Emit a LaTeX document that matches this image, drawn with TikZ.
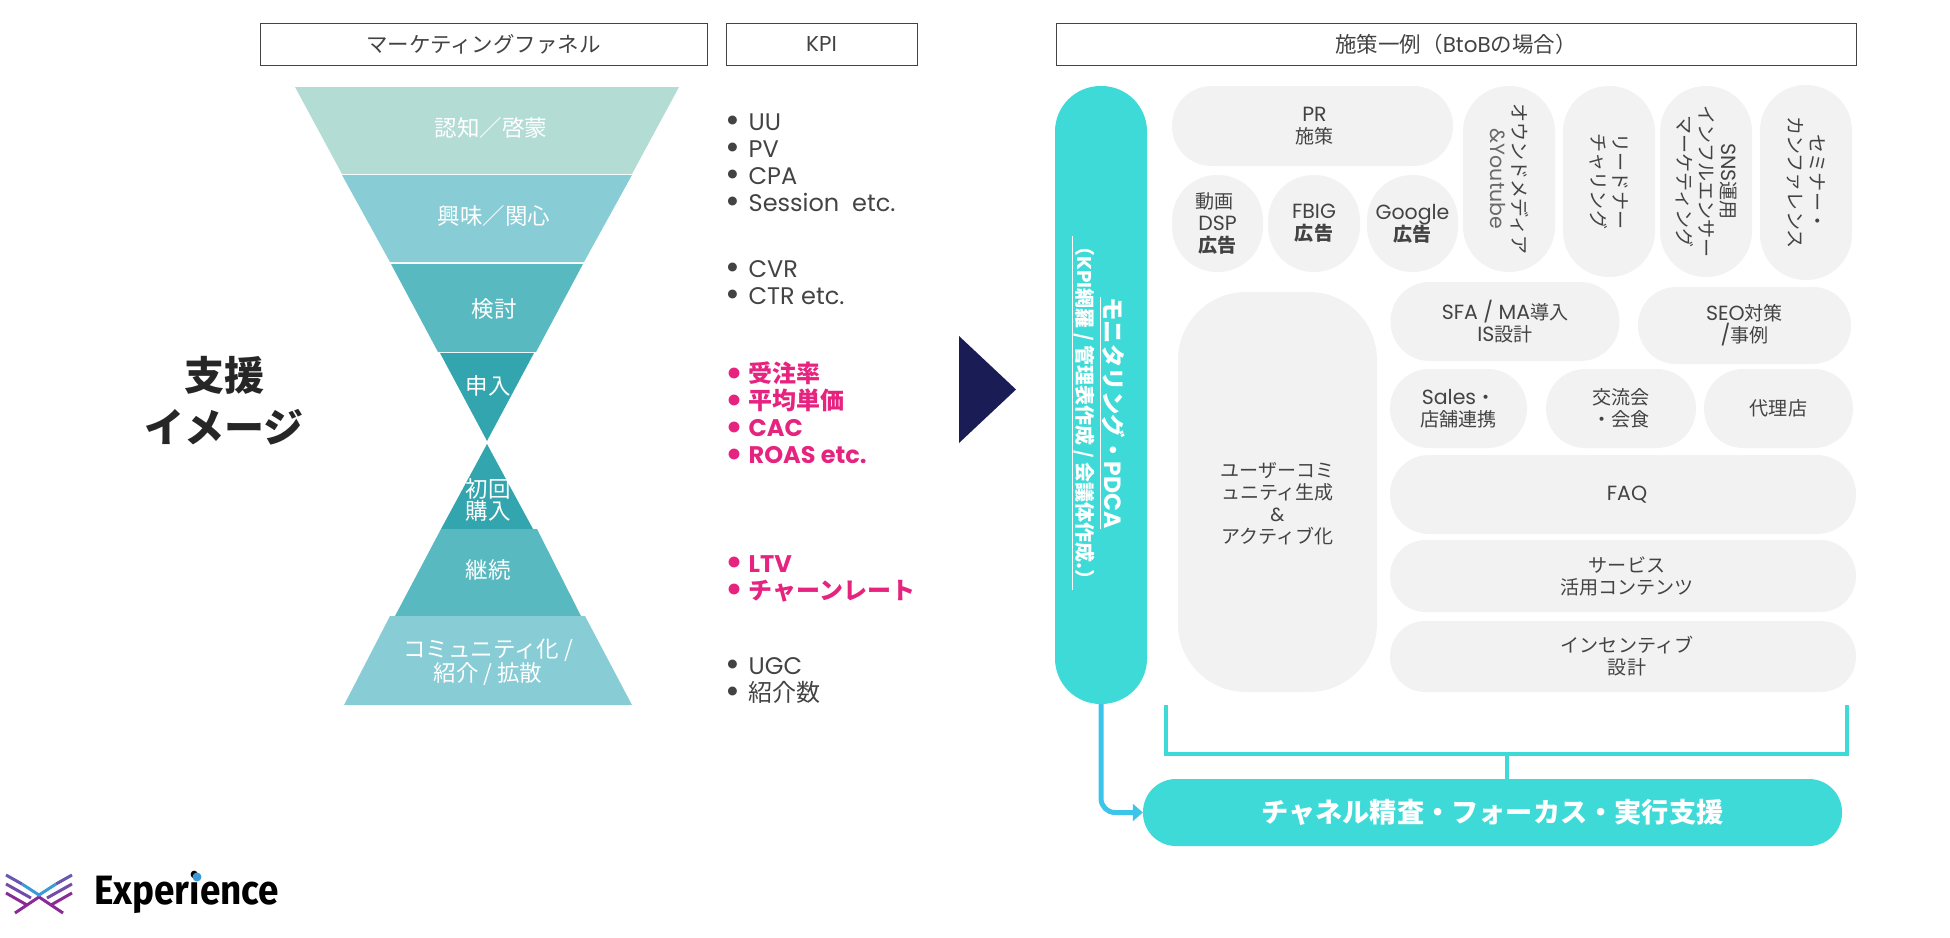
\documentclass[tikz,border=0pt]{standalone}
\usepackage{fontspec}
\usepackage{xcolor}
\usepackage{tikz}
\usetikzlibrary{arrows.meta}
\setmainfont{Poppins}
\newfontfamily\cjk{Noto Sans CJK JP}
\newfontfamily\cjkpill[Scale=0.93]{Noto Sans CJK JP}
\newfontfamily\logofont{Fira Sans}
\newcommand{\ja}[1]{{\cjk #1}}
\newcommand{\kpiline}[1]{\makebox[23pt][l]{\raisebox{-2.5pt}{\scalebox{1.5}{\textbullet}}}#1}
\definecolor{inktext}{HTML}{434343}
\definecolor{pillgray}{HTML}{F2F2F2}
\definecolor{aqua}{HTML}{3EDAD8}
\definecolor{skyline}{HTML}{3DC4EA}
\definecolor{navyarrow}{HTML}{1A1C56}
\definecolor{kpipink}{HTML}{E6237F}
\definecolor{tealA}{HTML}{B3DCD5}
\definecolor{tealB}{HTML}{88CCD5}
\definecolor{tealC}{HTML}{58BAC0}
\definecolor{tealD}{HTML}{32A5AE}
\definecolor{logopurple}{HTML}{8A2A96}
\definecolor{logoblue}{HTML}{3A9BD8}

\begin{document}
\begin{tikzpicture}[
  x=1pt, y=-1pt,
  header/.style={draw=inktext, line width=1pt, inner sep=0pt, text=inktext, font=\fontsize{21.5}{24}\selectfont},
  stage/.style={text=white, align=center, inner sep=0pt, font=\fontsize{22.5}{22}\selectfont},
  kpi/.style={anchor=west, align=left, inner sep=0pt, text=inktext, font=\fontsize{24}{27}\selectfont},
  kpihot/.style={kpi, text=kpipink, font=\fontsize{24}{27}\selectfont\bfseries},
  pill/.style 2 args={fill=pillgray, inner sep=0pt, align=center, text=inktext,
              minimum width=#1, minimum height=#2, rounded corners={min(#1,#2)/2*0.99pt},
              font=\let\cjk\cjkpill\fontsize{20.5}{22}\selectfont},
  upright/.style 2 args={pill={#2}{#1}, rotate=-90},
  bar/.style={-{Triangle[length=10pt,width=17pt]}, line width=5pt, draw=skyline, rounded corners=14pt},
  brace/.style={line width=4pt, draw=aqua},
  logoline/.style={line width=3pt}
]
  \useasboundingbox (0,0) rectangle (1950,937);

  % Headers
  \node[header, minimum width=447pt, minimum height=42pt] (hfunnel) at (483.5,44) {\ja{マーケティングファネル}};
  \node[header, minimum width=191pt, minimum height=42pt] (hkpi) at (821.5,44) {KPI};
  \node[header, minimum width=800pt, minimum height=42pt] (hplan) at (1456,44) {\ja{施策一例（}BtoB\ja{の場合）}};

  % Funnel
  \fill[tealA] (295,87) -- (679,87) -- (632,174) -- (342,174) -- cycle;
  \fill[tealB] (342,175) -- (632,175) -- (584,262) -- (390,262) -- cycle;
  \fill[tealC] (391,264) -- (583,264) -- (536,352) -- (438,352) -- cycle;
  \fill[tealD] (440,353) -- (534,353) -- (487,441) -- cycle;
  \fill[tealD] (487,444) -- (533,529) -- (441,529) -- cycle;
  \fill[tealC] (441,529) -- (537,529) -- (581,616) -- (395,616) -- cycle;
  \fill[tealB] (390,616) -- (585,616) -- (632,705) -- (344,705) -- cycle;

  \node[stage] (aware)   at (491,128) {\ja{認知／啓蒙}};
  \node[stage] (interest) at (494,216) {\ja{興味／関心}};
  \node[stage] (review)  at (494,309) {\ja{検討}};
  \node[stage] (apply)   at (488,386) {\ja{申入}};
  \node[stage] (first)   at (488,500) {\ja{初回}\\\ja{購入}};
  \node[stage] (repeat)  at (488,570) {\ja{継続}};
  \node[stage] (commu)   at (488,662) {\ja{コミュニティ化 /}\\\ja{紹介 / 拡散}};

  \node[align=center, inner sep=0pt, text=black!85, font=\fontsize{40}{52}\selectfont\bfseries] (title) at (224,401) {\ja{支援}\\\ja{イメージ}};

  % KPI lists
  \node[kpi] (kpiA) at (725.5,163.5) {\kpiline{UU}\\\kpiline{PV}\\\kpiline{CPA}\\\kpiline{Session\ \ etc.}};
  \node[kpi] (kpiB) at (725.5,283.5) {\kpiline{CVR}\\\kpiline{CTR etc.}};
  \node[kpihot] (kpiC) at (725.5,414) {\kpiline{\ja{受注率}}\\\kpiline{\ja{平均単価}}\\\kpiline{CAC}\\\kpiline{ROAS etc.}};
  \node[kpihot] (kpiD) at (725.5,578.5) {\kpiline{LTV}\\\kpiline{\ja{チャーンレート}}};
  \node[kpi] (kpiE) at (725.5,680.5) {\kpiline{UGC}\\\kpiline{\ja{紹介数}}};

  \fill[navyarrow] (959,336) -- (1016,389.5) -- (959,443) -- cycle;

  % Plan side
  \node[fill=aqua, inner sep=0pt, minimum width=92pt, minimum height=618pt, rounded corners=45.5pt] (monitor) at (1101,395) {};
  \node[rotate=-90, align=center, inner sep=0pt, text=white, font=\fontsize{23.5}{26}\selectfont\bfseries] (montext) at (1098,413)
    {\underline{\ja{モニタリング・}PDCA}\\[1pt]\underline{\fontsize{20}{22}\selectfont\ja{（}KPI\ja{網羅 / 管理表作成 / 会議体作成.）}}};

  \node[pill={281}{80}] (pr) at (1312.5,126) {\hspace*{4pt}PR\\\hspace*{4pt}\ja{施策}};
  \node[pill={91}{97}] (dsp) at (1217.5,223.5) {\ja{動画}\hspace*{6pt}\\DSP\\\textbf{\ja{広告}}};
  \node[pill={92}{97}] (fbig) at (1314,223.5) {FBIG\\\textbf{\ja{広告}}};
  \node[pill={91}{97}] (google) at (1412.5,223.5) {Google\\\textbf{\ja{広告}}};

  \node[upright={92}{186}] (owned) at (1509,179) {\ja{オウンドメディア}\\\textcolor{inktext!80}{\&Youtube}};
  \node[upright={92}{191}] (lead) at (1609,181.5) {\ja{リードナー}\\\ja{チャリング}};
  \node[upright={92}{191}] (sns) at (1706,181.5) {SNS\ja{運用}\\\ja{インフルエンサー}\\\ja{マーケティング}};
  \node[upright={92}{195}] (seminar) at (1806,182.5) {\ja{セミナー・}\\\ja{カンファレンス}};

  \node[fill=pillgray, inner sep=0pt, align=center, text=inktext, minimum width=199pt, minimum height=400pt,
        rounded corners=68pt, font=\fontsize{19}{22}\selectfont] (user) at (1277.5,492)
        {\rule{0pt}{38pt}\ja{ユーザーコミ}\\\ja{ュニティ生成}\\\&\\\ja{アクティブ化}};

  \node[pill={229}{79}] (sfa) at (1505,321.5) {SFA / MA\ja{導入}\\IS\ja{設計}};
  \node[pill={213}{77}] (seo) at (1744.5,325.5) {SEO\ja{対策}\\/\ja{事例}};
  \node[pill={137}{79}] (sales) at (1458.5,408.5) {Sales\ja{・}\\\ja{店舗連携}};
  \node[pill={150}{79}] (meetup) at (1621,408.5) {\ja{交流会}\\\ja{・会食}};
  \node[pill={149}{79}] (agency) at (1778.5,408.5) {\ja{代理店}};
  \node[pill={466}{79}] (faq) at (1623,494.5) {\hspace*{8pt}FAQ};
  \node[pill={466}{72}] (service) at (1623,576) {\hspace*{8pt}\ja{サービス}\\\hspace*{8pt}\ja{活用コンテンツ}};
  \node[pill={466}{71}] (incent) at (1623,656.5) {\hspace*{8pt}\ja{インセンティブ}\\\hspace*{8pt}\ja{設計}};

  \node[fill=aqua, inner sep=0pt, text=white, minimum width=699pt, minimum height=67pt, rounded corners=33pt,
        font=\fontsize{27.2}{30}\selectfont\bfseries] (focus) at (1492.5,812.5) {\ja{チャネル精査・フォーカス・実行支援}};

  % Paths
  \coordinate (brleft) at (1166,705);
  \coordinate (brright) at (1847,705);
  \coordinate (brmid) at (1507,754);
  \coordinate (brfoot) at (1507,780);
  \draw[brace] (brleft) |- (brmid) -| (brright);
  \draw[brace] (brmid) -- (brfoot);
  \draw[bar] (monitor.south) |- (focus.west);

  % Logo
  \draw[logoline, draw=logopurple] (15,913) -- (39,897) -- (63,913);
  \draw[logoline, draw=logopurple] (6,893) -- (27,905);
  \draw[logoline, draw=logopurple] (72,893) -- (51,905);
  \draw[logoline, draw=logopurple!70!logoblue] (6,884) -- (31,898);
  \draw[logoline, draw=logopurple!70!logoblue] (72,884) -- (47,898);
  \draw[logoline, draw=logopurple!60!logoblue] (6,875) -- (22,884);
  \draw[logoline, draw=logopurple!60!logoblue] (72,875) -- (56,884);
  \draw[logoline, draw=logoblue] (22,884) -- (39,895) -- (56,884);
  \node[anchor=west, inner sep=0pt, text=black, font=\logofont\fontsize{41}{46}\selectfont\bfseries] (brand) at (94,892) {\scalebox{0.9}[1]{Experience}};
  \fill[logoblue] (197,877) circle (4.5pt);
\end{tikzpicture}
\end{document}
